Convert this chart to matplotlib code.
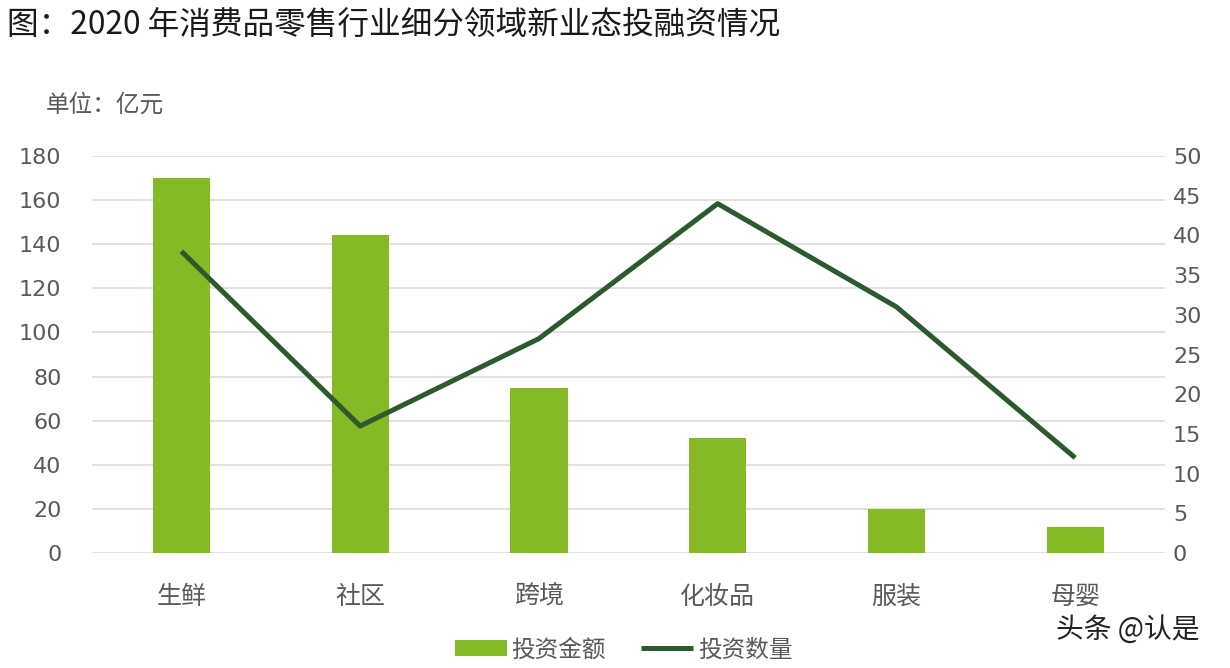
import matplotlib.pyplot as plt
import numpy as np

plt.rcParams['font.family'] = ['Noto Sans CJK SC', 'DejaVu Sans']

categories = ['生鲜', '社区', '跨境', '化妆品', '服装', '母婴']
amount = [170, 144, 75, 52, 20, 12]      # 投资金额 (亿元)
count = [38, 16, 27, 44, 31, 12]         # 投资数量
left_ticks = [0, 20, 40, 60, 80, 100, 120, 140, 160, 180]
right_ticks = [0, 5, 10, 15, 20, 25, 30, 35, 40, 45, 50]

bar_color = '#86b926'
line_color = '#2b5a2e'
text_color = '#595959'

fig = plt.figure(figsize=(12.3, 6.68), dpi=100)
ax = fig.add_axes([0.0748, 0.172, 0.872, 0.5945])
ax2 = ax.twinx()

x = np.arange(len(categories))
ax.bar(x, amount, width=0.32, color=bar_color, label='投资金额', zorder=2)
ax2.plot(x, count, color=line_color, lw=3.6, solid_capstyle='butt', label='投资数量', zorder=3)

ax.set_xlim(-0.5, len(categories) - 0.5)
ax.set_ylim(0, 180)
ax2.set_ylim(0, 50)
ax.set_yticks(left_ticks)
ax2.set_yticks(right_ticks)
ax.set_xticks(x)
ax.set_xticklabels(categories)

ax.grid(axis='y', color='#d9d9d9', lw=1.1, zorder=0)
ax.set_axisbelow(True)
for a in (ax, ax2):
    for s in a.spines.values():
        s.set_visible(False)
    a.tick_params(length=0, colors=text_color, labelsize=16)
ax.tick_params(axis='y', pad=22)
ax2.tick_params(axis='y', pad=6)
ax.tick_params(axis='x', pad=22, labelsize=18)
for lbl in ax.get_yticklabels() + ax2.get_yticklabels():
    lbl.set_family('DejaVu Sans')

fig.text(0.006, 0.962, '图：2020 年消费品零售行业细分领域新业态投融资情况',
         fontsize=22.8, color='#1a1a1a', va='center', ha='left')
fig.text(0.037, 0.843, '单位：亿元', fontsize=17, color=text_color, va='center', ha='left')

h1, l1 = ax.get_legend_handles_labels()
h2, l2 = ax2.get_legend_handles_labels()
leg = fig.legend(h1 + h2, l1 + l2, loc='center', bbox_to_anchor=(0.507, 0.027),
                 ncol=2, frameon=False, fontsize=17, handlelength=2.2,
                 handletextpad=0.2, columnspacing=1.5)
for t in leg.get_texts():
    t.set_color(text_color)

fig.text(0.917, 0.057, '头条 @认是', fontsize=20, color='#222222', va='center', ha='center')

fig.savefig('out.png', dpi=100)
